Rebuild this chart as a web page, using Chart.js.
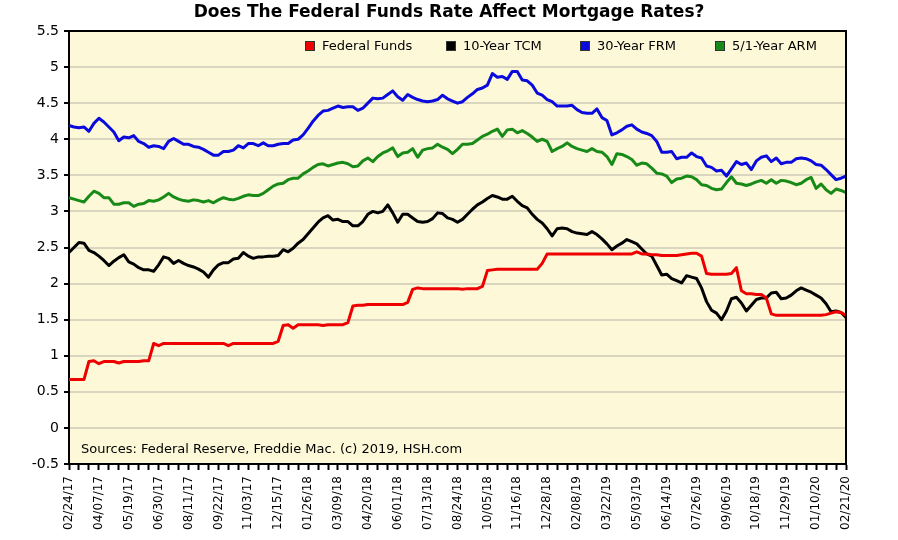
<!DOCTYPE html>
<html>
<head>
<meta charset="utf-8">
<title>Federal Funds x Mortgage Rates</title>
<script src="https://cdn.jsdelivr.net/npm/chart.js@4.4.1/dist/chart.umd.min.js"></script>
<style>
  html, body { margin: 0; padding: 0; background: #fff; }
</style>
</head>
<body>
<canvas id="grafico" width="898" height="540"></canvas>
<script>
// weekly dates, 02/24/17 .. 02/21/20 (157 weeks)
const semanas = [];
for (let i = 0; i < 157; i++) {
  const d = new Date(2017, 1, 24 + 7 * i);
  const mm = String(d.getMonth() + 1).padStart(2, "0");
  const dd = String(d.getDate()).padStart(2, "0");
  const yy = String(d.getFullYear()).slice(2);
  semanas.push(`${mm}/${dd}/${yy}`);
}

const fedFunds = [
  0.67,0.67,0.67,0.67,0.92,0.93,0.89,0.92,0.92,0.92,
  0.90,0.92,0.92,0.92,0.92,0.93,0.93,1.17,1.14,1.17,
  1.17,1.17,1.17,1.17,1.17,1.17,1.17,1.17,1.17,1.17,
  1.17,1.17,1.14,1.17,1.17,1.17,1.17,1.17,1.17,
  1.17,1.17,1.17,1.20,1.42,1.43,1.38,1.43,1.43,1.43,
  1.43,1.43,1.42,1.43,1.43,1.43,1.43,1.46,1.69,1.70,
  1.70,1.71,1.71,1.71,1.71,1.71,1.71,1.71,1.71,1.74,
  1.92,1.94,1.93,1.93,1.93,1.93,1.93,1.93,
  1.93,1.93,1.92,1.93,1.93,1.93,1.96,2.18,2.19,2.20,
  2.20,2.20,2.20,2.20,2.20,2.20,2.20,2.20,2.28,2.41,
  2.41,2.41,2.41,2.41,2.41,2.41,2.41,2.41,2.41,2.41,
  2.41,2.41,2.41,2.41,2.41,2.41,2.41,2.44,2.41,
  2.41,2.40,2.40,2.39,2.39,2.39,2.39,2.40,2.41,2.42,
  2.42,2.38,2.14,2.13,2.13,2.13,2.13,2.14,2.22,1.90,
  1.86,1.86,1.85,1.85,1.80,1.58,1.56,1.56,1.56,1.56,
  1.56,1.56,1.56,1.56,1.56,1.56,1.57,1.59,1.61,1.60,1.56
];

const tcm10 = [
  2.43,2.50,2.57,2.56,2.46,2.43,2.38,2.32,2.25,2.31,
  2.36,2.40,2.30,2.27,2.22,2.19,2.19,2.17,2.26,2.37,
  2.35,2.28,2.32,2.28,2.25,2.23,2.20,2.16,2.09,2.19,
  2.26,2.29,2.29,2.34,2.35,2.43,2.38,2.35,2.37,
  2.37,2.38,2.38,2.39,2.47,2.44,2.49,2.56,2.61,2.69,
  2.77,2.85,2.91,2.94,2.88,2.89,2.86,2.86,2.80,2.80,
  2.86,2.96,3.00,2.98,3.00,3.09,2.98,2.85,2.96,2.96,
  2.91,2.86,2.85,2.86,2.90,2.98,2.97,2.91,
  2.89,2.85,2.89,2.96,3.03,3.09,3.13,3.18,3.22,3.20,
  3.17,3.17,3.21,3.14,3.08,3.05,2.96,2.89,2.84,2.76,
  2.66,2.76,2.77,2.76,2.72,2.70,2.69,2.68,2.72,2.68,
  2.62,2.55,2.47,2.52,2.56,2.61,2.58,2.55,2.48,
  2.41,2.38,2.25,2.12,2.13,2.07,2.04,2.01,2.11,2.09,
  2.07,1.94,1.75,1.63,1.59,1.50,1.62,1.79,1.81,1.73,
  1.62,1.70,1.78,1.80,1.80,1.87,1.88,1.79,1.80,1.84,
  1.90,1.94,1.91,1.88,1.84,1.80,1.72,1.61,1.62,1.60,1.53
];

const frm30 = [
  4.19,4.17,4.16,4.17,4.11,4.22,4.29,4.24,4.17,4.10,
  3.98,4.03,4.02,4.05,3.97,3.94,3.89,3.91,3.90,3.87,
  3.97,4.01,3.97,3.93,3.93,3.90,3.89,3.86,3.82,3.78,
  3.78,3.83,3.83,3.85,3.91,3.88,3.94,3.94,3.91,
  3.95,3.91,3.91,3.93,3.94,3.94,3.99,4.00,4.06,4.15,
  4.25,4.33,4.39,4.40,4.43,4.46,4.44,4.45,4.45,4.40,
  4.43,4.50,4.57,4.56,4.57,4.62,4.67,4.59,4.54,4.62,
  4.58,4.55,4.53,4.52,4.53,4.55,4.61,4.56,
  4.53,4.50,4.52,4.58,4.63,4.69,4.71,4.75,4.91,4.86,
  4.87,4.83,4.94,4.94,4.82,4.81,4.75,4.64,4.61,4.55,
  4.52,4.46,4.46,4.46,4.47,4.41,4.37,4.36,4.36,4.42,
  4.30,4.26,4.06,4.09,4.13,4.18,4.20,4.14,4.10,
  4.08,4.05,3.97,3.82,3.82,3.83,3.73,3.75,3.75,3.81,
  3.76,3.74,3.63,3.61,3.56,3.57,3.49,3.59,3.69,3.65,
  3.67,3.58,3.70,3.75,3.77,3.69,3.74,3.66,3.68,3.68,
  3.73,3.74,3.73,3.70,3.65,3.64,3.58,3.51,3.44,3.46,3.49
];

const arm51 = [
  3.19,3.17,3.15,3.13,3.21,3.28,3.25,3.19,3.19,3.10,
  3.10,3.12,3.12,3.07,3.10,3.11,3.15,3.14,3.16,3.20,
  3.25,3.20,3.17,3.15,3.14,3.16,3.15,3.13,3.15,3.12,
  3.16,3.19,3.17,3.16,3.18,3.21,3.23,3.22,3.22,
  3.25,3.30,3.35,3.38,3.39,3.44,3.46,3.46,3.52,3.56,
  3.61,3.65,3.66,3.63,3.65,3.67,3.68,3.66,3.62,3.63,
  3.70,3.74,3.69,3.76,3.81,3.84,3.88,3.76,3.81,3.82,
  3.87,3.75,3.85,3.87,3.88,3.93,3.89,3.86,
  3.80,3.86,3.93,3.93,3.94,3.99,4.04,4.07,4.11,4.14,
  4.04,4.13,4.14,4.09,4.12,4.08,4.03,3.97,4.00,3.97,
  3.83,3.87,3.90,3.95,3.90,3.87,3.85,3.83,3.87,3.83,
  3.82,3.76,3.65,3.80,3.79,3.76,3.72,3.64,3.67,
  3.66,3.60,3.53,3.52,3.49,3.40,3.45,3.46,3.49,3.48,
  3.44,3.37,3.36,3.32,3.30,3.31,3.40,3.48,3.39,3.38,
  3.36,3.38,3.41,3.43,3.39,3.44,3.39,3.43,3.42,3.40,
  3.37,3.39,3.44,3.47,3.32,3.38,3.30,3.25,3.31,3.29,3.26
];

const nomes = ["Federal Funds", "10-Year TCM", "30-Year FRM", "5/1-Year ARM"];
const cores = ["#EE0000", "#000000", "#0A0ADD", "#178A17"];
const titulo = "Does The Federal Funds Rate Affect Mortgage Rates?";
const fonte = "Sources: Federal Reserve, Freddie Mac. (c) 2019, HSH.com";

const SANS = '"DejaVu Sans", Verdana, sans-serif';

// fundo creme, moldura, título, legenda e fonte
const moldura = {
  id: "moldura",
  beforeDraw(chart) {
    const { ctx, chartArea: a } = chart;
    ctx.save();
    ctx.fillStyle = "#FDF9D8";
    ctx.fillRect(a.left, a.top, a.right - a.left, a.bottom - a.top);
    ctx.restore();
  },
  afterDraw(chart) {
    const { ctx, chartArea: a } = chart;
    ctx.save();
    ctx.strokeStyle = "#000";
    ctx.lineWidth = 2;
    ctx.beginPath();
    ctx.moveTo(a.left - 1, a.top);
    ctx.lineTo(a.right, a.top);
    ctx.lineTo(a.right, a.bottom + 1);
    ctx.stroke();

    // título
    ctx.fillStyle = "#000";
    ctx.font = "bold 17px " + SANS;
    ctx.textAlign = "center";
    ctx.textBaseline = "middle";
    ctx.fillText(titulo, chart.width / 2, 13);

    ctx.textAlign = "left";
    ctx.font = "13px " + SANS;
    ctx.fillText(fonte, a.left + 12, a.bottom - 14);

    // legenda
    const posX = [305, 446, 580, 715];
    chart.data.datasets.forEach((ds, i) => {
      const x = posX[i];
      const y = a.top + 10;
      ctx.fillStyle = ds.borderColor;
      ctx.fillRect(x, y, 10, 10);
      ctx.strokeStyle = "#333";
      ctx.lineWidth = 1;
      ctx.strokeRect(x + 0.5, y + 0.5, 9, 9);
      ctx.fillStyle = "#000";
      ctx.font = "13px " + SANS;
      ctx.fillText(ds.label, x + 17, y + 5.5);
    });
    ctx.restore();
  }
};

const series = [fedFunds, tcm10, frm30, arm51];

new Chart(document.getElementById("grafico"), {
  type: "line",
  data: {
    labels: semanas,
    datasets: series.map((s, i) => ({
      label: nomes[i],
      data: s,
      borderColor: cores[i],
      backgroundColor: cores[i],
      borderWidth: 3,
      pointRadius: 0,
      tension: 0,
      borderJoinStyle: "round",
      fill: false
    }))
  },
  options: {
    responsive: false,
    animation: false,
    layout: { padding: { left: 0, right: 52, top: 31, bottom: 0 } },
    plugins: {
      legend: { display: false },
      tooltip: { enabled: false },
      title: { display: false }
    },
    scales: {
      x: {
        afterFit: s => { s.height = 76; },
        border: { color: "#000", width: 2 },
        grid: {
          drawOnChartArea: false,
          tickLength: 6,
          tickWidth: 2,
          tickColor: c => (c.index % 2 === 0 ? "#000" : "rgba(0,0,0,0)")
        },
        ticks: {
          autoSkip: false,
          maxRotation: 90,
          minRotation: 90,
          padding: 6,
          color: "#000",
          font: { family: SANS, size: 12 },
          callback: function (v, i) {
            return i % 6 === 0 ? this.getLabelForValue(v) : "";
          }
        }
      },
      y: {
        min: -0.5,
        max: 5.5,
        afterFit: s => { s.width = 69; },
        border: { color: "#000", width: 2 },
        grid: {
          color: "#D9D5BF",
          lineWidth: 2,
          tickColor: "#000",
          tickLength: 5
        },
        ticks: {
          stepSize: 0.5,
          padding: 5,
          color: "#000",
          font: { family: SANS, size: 14 },
          callback: v => String(Math.round(v * 10) / 10)
        }
      }
    }
  },
  plugins: [moldura]
});
</script>
</body>
</html>
